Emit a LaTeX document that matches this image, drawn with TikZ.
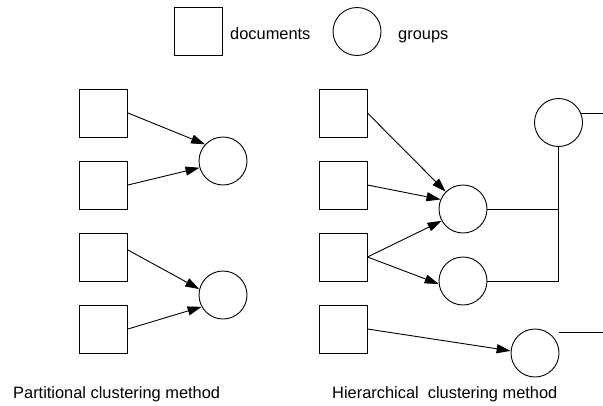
\documentclass[tikz,border=0pt]{standalone}
\usepackage{fontspec}
\setmainfont{Liberation Sans}
\usetikzlibrary{arrows.meta}
\usetikzlibrary{calc}
\usetikzlibrary{math}

\tikzset{
    document/.style={draw, line width=0.9pt, minimum size=48pt, inner sep=0pt},
    group/.style={draw, circle, line width=0.9pt, minimum size=48pt, inner sep=0pt},
    legendtext/.style={anchor=base west, inner sep=0pt, font=\fontsize{16.4pt}{19pt}\selectfont},
    link/.style={line width=0.9pt, -{Triangle[length=14pt,width=9pt]}},
    wire/.style={line width=0.9pt}
}

\begin{document}
\begin{tikzpicture}[x=1pt,y=-1pt]
            \useasboundingbox (0,0) rectangle (603,405);
            \tikzmath{\xl = 103.5; \xr = 343;}

            \node[document] (L) at (198,31) {};
            \node[group] (G) at (357,31.5) {};
            \node[legendtext] (Ldoc) at (230,39) {documents};
            \node[legendtext] (Lgrp) at (398,39) {groups};

            \foreach \y [count=\i] in {113,185,257,329} {
                \node[document] (P\i) at (\xl,\y) {};
                \node[document] (H\i) at (\xr,\y) {};
            }

            \node[group] (PG1) at (223,161) {};
            \node[group] (PG2) at (223,295) {};
            \node[group] (HG1) at (463,209) {};
            \node[group] (HG2) at (463,281) {};
            \node[group] (HG3) at (535,353) {};
            \node[group] (HT) at (558.5,122.5) {};

            \draw[link] (P1.east) -- (PG1.137);
            \draw[link] (P2.east) -- (PG1.196);
            \draw[link] (P3.16) -- (PG2.166);
            \draw[link] (P4.east) -- (PG2.209);
            \draw[link] (H1.east) -- (HG1.135);
            \draw[link] (H2.east) -- (HG1.157);
            \draw[link] (H3.east) -- (HG1.209);
            \draw[link] (H3.east) -- (HG2.187);
            \draw[link] (H4.east) -- (HG3.175);

            \coordinate (E1) at (603,113);
            \coordinate (E2) at (603,332);
            \draw[wire] (HT.south) |- (HG2.east);
            \draw[wire] (HG1.east) -- (HG1.east -| HT.south);
            \draw[wire] (HT.22) -- (HT.22 -| E1);
            \draw[wire] (HG3.east |- E2) -- (E2);

            \node[legendtext] (Tpart) at (13,398) {Partitional clustering method};
            \node[legendtext] (Thier) at (332,398) {Hierarchical\ \ clustering method};
        \end{tikzpicture}
\end{document}
